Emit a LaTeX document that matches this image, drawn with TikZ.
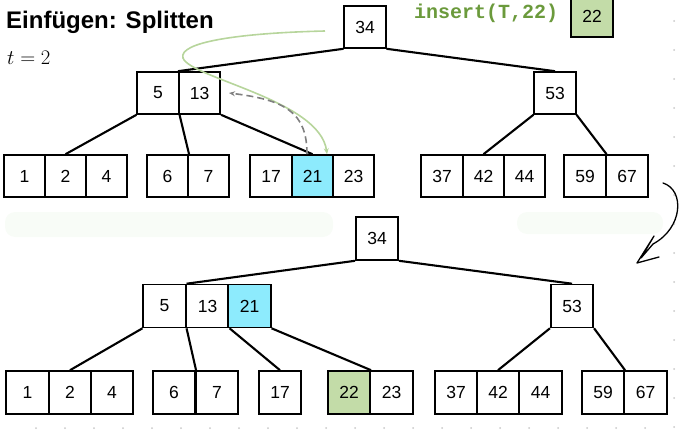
\documentclass[tikz,border=0pt]{standalone}
\usepackage{fontspec}
\setmainfont{Liberation Sans}
\newfontfamily\monofont{Liberation Mono}
\usetikzlibrary{arrows.meta}
\definecolor{cyanfill}{HTML}{8DEBFD}
\definecolor{greenfill}{HTML}{C3DCA8}
\definecolor{codegreen}{HTML}{6B9A3C}
\definecolor{curvegreen}{HTML}{B7D59C}
\definecolor{dotgray}{HTML}{C8C8C8}
\definecolor{smudge}{HTML}{F8FCF7}
\tikzset{
  cellt/.style={draw=black, line width=1.6pt, minimum width=41.5pt, minimum height=42pt, inner sep=0pt, font=\fontsize{17.5}{20}\selectfont, fill=white},
  cellb/.style={draw=black, line width=1.6pt, minimum width=42.5pt, minimum height=43pt, inner sep=0pt, font=\fontsize{17.5}{20}\selectfont, fill=white},
  hl/.style={fill=cyanfill},
  gr/.style={fill=greenfill},
  edge/.style={line width=2.1pt, black},
}
\begin{document}
\begin{tikzpicture}[x=1pt,y=-1pt]
\useasboundingbox (0,0) rectangle (687,433);
% faint smudges
\fill[smudge, rounded corners=10pt] (5,212) rectangle (333,237);
\fill[smudge, rounded corners=10pt] (517,212) rectangle (663,234);
% dots
\foreach \k in {0,...,14} \fill[dotgray] (674,21+29*\k) circle (1pt);
\foreach \k in {0,...,21} \fill[dotgray] (36+29*\k,428) circle (1pt);
% title
\node[anchor=west, inner sep=0pt, font=\bfseries\fontsize{24}{28}\selectfont] (title) at (6,22) {Einfügen: Splitten};
\node[anchor=west, inner sep=0pt, font=\fontsize{20}{24}\selectfont] (tval) at (7,58) {$t = 2$};
\node[anchor=west, inner sep=0pt, font=\monofont\bfseries\fontsize{20}{22}\selectfont, text=codegreen] (ins) at (414,13) {insert(T,22)};
\node[cellt, gr] (new22) at (592,16) {22};

% top tree
\node[cellt] (t34) at (365,27) {34};
\node[cellt] (t53) at (555,93) {53};
\node[cellt] (t5) at (158,93) {5};
\node[cellt] (t13) at (199.5,93) {13};
\node[cellt] (t1) at (24.5,176) {1};
\node[cellt] (t2) at (65.5,176) {2};
\node[cellt] (t4) at (106.5,176) {4};
\node[cellt] (t6) at (167.5,176) {6};
\node[cellt] (t7) at (208.5,176) {7};
\node[cellt] (t17) at (271,176) {17};
\node[cellt, hl] (t21) at (312.5,176) {21};
\node[cellt] (t23) at (353.5,176) {23};
\node[cellt] (t37) at (442,176) {37};
\node[cellt] (t42) at (483.5,176) {42};
\node[cellt] (t44) at (524.5,176) {44};
\node[cellt] (t59) at (585,176) {59};
\node[cellt] (t67) at (627,176) {67};

\draw[edge] (t34.south west) -- (t13.north west);
\draw[edge] (t34.south east) -- (t53.north);
\draw[edge] (t5.south west) -- (t2.north);
\draw[edge] (t5.south east) -- (t6.north east);
\draw[edge] (t13.south east) -- (t21.north);
\draw[edge] (t53.south west) -- (t42.north);
\draw[edge] (t53.south east) -- (t59.north east);

% bottom tree
\node[cellb] (b34) at (377,238.5) {34};
\node[cellb] (b53) at (572,306) {53};
\node[cellb] (b5) at (164.5,306) {5};
\node[cellb] (b13) at (207.5,306) {13};
\node[cellb, hl] (b21) at (249.5,306) {21};
\node[cellb] (b1) at (27.5,392.5) {1};
\node[cellb] (b2) at (70,392.5) {2};
\node[cellb] (b4) at (112,392.5) {4};
\node[cellb] (b6) at (174,392.5) {6};
\node[cellb] (b7) at (217,392.5) {7};
\node[cellb] (b17) at (280,392.5) {17};
\node[cellb, gr] (b22) at (349,392.5) {22};
\node[cellb] (b23) at (391.5,392.5) {23};
\node[cellb] (b37) at (456,392.5) {37};
\node[cellb] (b42) at (498,392.5) {42};
\node[cellb] (b44) at (540.5,392.5) {44};
\node[cellb] (b59) at (603,392.5) {59};
\node[cellb] (b67) at (645.5,392.5) {67};

\draw[edge] (b34.south west) -- (b5.north east);
\draw[edge] (b34.south east) -- (b53.north);
\draw[edge] (b5.south west) -- (b2.north);
\draw[edge] (b5.south east) -- (b6.north east);
\draw[edge] (b13.south east) -- (b17.north);
\draw[edge] (b21.south east) -- (b22.north east);
\draw[edge] (b53.south west) -- (b42.north);
\draw[edge] (b53.south east) -- (b59.north east);

% green curve
\coordinate (gs) at (325,31);
\coordinate (ge) at ([xshift=14.5pt]t21.north);
\draw[curvegreen, line width=1.6pt, -{Stealth[length=6pt,width=5pt]}]
  (gs) .. controls (240,33) and (178,42) .. (183,58)
       .. controls (190,78) and (320,100) .. (ge);
% gray dashed
\coordinate (ds) at ([xshift=-5.5pt]t21.north);
\draw[gray, line width=1.6pt, dash pattern=on 7pt off 4pt, -{Stealth[length=6pt,width=5pt]}]
  (ds) .. controls (307,112) and (285,100) .. ([xshift=8pt]t13.east);
% right hand-drawn arrow
\coordinate (as) at (663,183);
\coordinate (at) at (637,263);
\draw[line width=1.3pt, line cap=round] (as) .. controls (685,190) and (683,228) .. (653,244);
\draw[line width=1.3pt, line cap=round, line join=round] (653,244) -- (641,258) -- (654,236) -- (at) -- (659,257);
\end{tikzpicture}
\end{document}
